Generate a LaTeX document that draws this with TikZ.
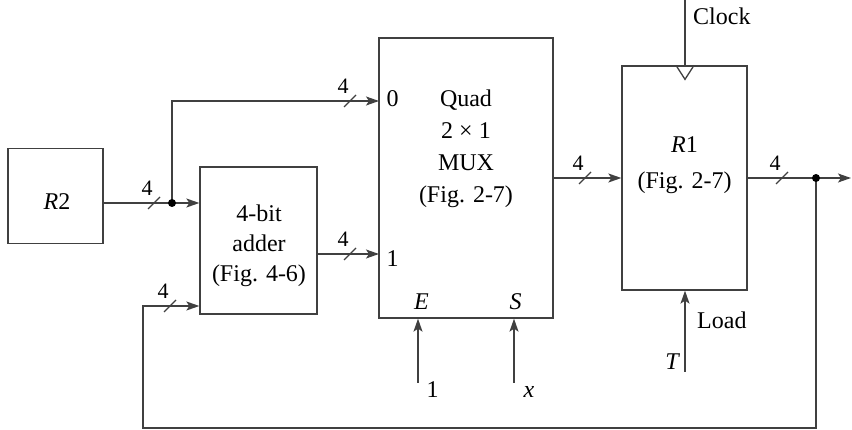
\documentclass[tikz,border=0pt]{standalone}
\usepackage{fontspec}
\setmainfont{Liberation Serif}
\usetikzlibrary{arrows.meta,calc}
\begin{document}
\begin{tikzpicture}[x=1pt,y=-1pt,
  wire/.style={line width=1.3pt,draw=black!75},
  box/.style={wire,rectangle,inner sep=0pt},
  >={Stealth[length=13pt,width=9pt,inset=3pt]},
  txt/.style={font=\fontsize{24}{32}\selectfont,inner sep=0pt,anchor=base},
  buslbl/.style={font=\fontsize{22}{26}\selectfont,inner sep=0pt},
  dot/.style={circle,fill=black,inner sep=0pt,minimum size=8pt},
  bus/.pic={\draw[wire] (-6,6) -- (6,-6); \node[buslbl] at (-7,-15) {4};}
]
\useasboundingbox (0,0) rectangle (852,430);
% boxes
\node[box,minimum width=95pt,minimum height=95pt] (R2) at (55.5,196) {};
\node[box,minimum width=117pt,minimum height=147pt] (adder) at (258.5,240.5) {};
\node[box,minimum width=174pt,minimum height=280pt] (mux) at (466,178) {};
\node[box,minimum width=125pt,minimum height=224pt] (R1) at (684.5,178) {};
% texts
\node[txt] (tR2) at (57,210) {\itshape R\upshape 2};
\node[txt] (tA1) at (259,222) {4-bit};
\node[txt] (tA2) at (259,252) {adder};
\node[txt] (tA3) at (259,282) {(Fig. 4-6)};
\node[txt] (tM1) at (466,107) {Quad};
\node[txt] (tM2) at (466,139) {2 × 1};
\node[txt] (tM3) at (466,171) {MUX};
\node[txt] (tM4) at (466,203) {(Fig. 2-7)};
\node[txt] (tR1a) at (684.5,153) {\itshape R\upshape 1};
\node[txt] (tR1b) at (684.5,189) {(Fig. 2-7)};
\node[txt] (t0) at (392.5,107) {0};
\node[txt] (t1) at (392.5,267) {1};
\node[txt] (tE) at (421.5,310) {\itshape E};
\node[txt] (tS) at (515.5,310) {\itshape S};
\node[txt,anchor=base west] (tClock) at (693,25) {Clock};
\node[txt,anchor=base west] (tLoad) at (697,329) {Load};
\node[txt] (tT) at (672,370) {\itshape T};
\node[txt] (tOne) at (432.5,398) {1};
\node[txt] (tx) at (529,398) {\itshape x};
% coordinates
\coordinate (dA) at (172,203);
\coordinate (in0) at (379,101);
\coordinate (in1) at (379,254);
\coordinate (dB) at (816,178);
\coordinate (outEnd) at (851,178);
\coordinate (fb1) at (816,428);
\coordinate (fb2) at (143,428);
\coordinate (fb3) at (143,306);
\coordinate (clkTop) at (685,0);
\coordinate (eBot) at (418,383);
\coordinate (sBot) at (514,383);
\coordinate (tBot) at (685,372);
% connectors
\draw[wire,->] (R2.east |- dA) -- (dA) -- (adder.west |- dA);
\draw[wire,->] (dA) |- (in0);
\draw[wire,->] (adder.east |- in1) -- (in1);
\draw[wire,->] (mux.east |- R1.west) -- (R1.west);
\draw[wire,->] (R1.east) -- (outEnd);
\draw[wire,->] (dB) -- (fb1) -- (fb2) -- (fb3) -- (adder.west |- fb3);
\draw[wire] (clkTop) -- (R1.north -| clkTop);
\draw[wire] ($(R1.north -| clkTop)+(-9,0)$) -- ($(R1.north -| clkTop)+(0,14)$) -- ($(R1.north -| clkTop)+(9,0)$);
\draw[wire,->] (eBot) -- (mux.south -| eBot);
\draw[wire,->] (sBot) -- (mux.south -| sBot);
\draw[wire,->] (tBot) -- (R1.south -| tBot);
\node[dot] (dotA) at (dA) {};
\node[dot] (dotB) at (dB) {};
% bus slashes
\pic at (154,203) {bus};
\pic at (350,101) {bus};
\pic at (350,254) {bus};
\pic at (585,178) {bus};
\pic at (782,178) {bus};
\pic at (170,306) {bus};
\end{tikzpicture}
\end{document}
